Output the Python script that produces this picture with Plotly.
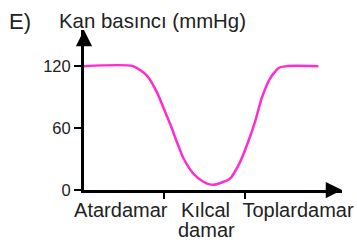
import plotly.graph_objects as go

# Data (x in vessel-band units, y in mmHg)
x_pos = [0.0, 0.605, 0.774, 0.898, 1.0, 1.083, 1.144, 1.226, 1.349, 1.473, 1.596,
         1.802, 1.926, 2.028, 2.111, 2.194, 2.296, 2.399, 2.502, 2.893]
pressure = [120, 120, 111, 95, 76, 60, 47, 31, 16, 8, 5,
            11, 27, 47, 66, 89, 108, 118, 120, 120]
categories = ["Atardamar", "Kılcal", "Toplardamar"]
cat_pos = [0.454, 1.5, 2.642]
second_line = ["damar"]
second_line_pos = [1.51]
boundary_ticks = [0.99, 1.99]
y_ticks = [0, 60, 120]

XMAX = 3.185
YMAX = 155
FONT = "Liberation Sans, Arial, sans-serif"
W, H = 357, 243
ML, MR, MT, MB = 84, 15, 30, 53

fig = go.Figure()
fig.add_trace(go.Scatter(
    x=x_pos, y=pressure, mode="lines",
    line=dict(color="#ff2ccf", width=2.5, shape="spline", smoothing=0.6),
    showlegend=False, hoverinfo="skip",
))
for ax in ("x2", "x3"):
    fig.add_trace(go.Scatter(x=[0.5], y=[None], xaxis=ax, mode="markers",
                             showlegend=False, hoverinfo="skip"))

label_font = dict(family=FONT, size=20, color="#222")
fig.update_layout(
    width=W, height=H,
    margin=dict(l=ML, r=MR, t=MT, b=MB),
    paper_bgcolor="white", plot_bgcolor="white",
    xaxis=dict(range=[0, XMAX], showgrid=False, zeroline=False, automargin=False,
               showline=True, linecolor="black", linewidth=3,
               tickvals=boundary_ticks, ticks="outside", ticklen=6,
               tickwidth=1.5, tickcolor="black", showticklabels=False),
    xaxis2=dict(range=[0, XMAX], overlaying="x", side="bottom", anchor="y",
                showgrid=False, zeroline=False, showline=False, automargin=False,
                tickvals=cat_pos, ticktext=categories, ticks="",
                ticklabelstandoff=6, tickfont=label_font),
    xaxis3=dict(range=[0, XMAX], overlaying="x", side="bottom", anchor="y",
                showgrid=False, zeroline=False, showline=False, automargin=False,
                tickvals=second_line_pos, ticktext=second_line, ticks="",
                ticklabelstandoff=26, tickfont=label_font),
    yaxis=dict(range=[0, YMAX], showgrid=False, zeroline=False, automargin=False,
               showline=True, linecolor="black", linewidth=3,
               tickvals=y_ticks, ticks="outside", ticklen=7,
               tickwidth=1.5, tickcolor="black", ticklabelstandoff=0,
               tickfont=dict(family=FONT, size=16.5, color="#222")),
)

pw = W - ML - MR
ph = H - MT - MB


def px_to_paper(px, py):
    return (px - ML) / pw, (H - MB - py) / ph


anns = [
    dict(x=XMAX, y=0, xref="x", yref="y", ax=-14, ay=0,
         showarrow=True, arrowhead=2, arrowsize=1.3, arrowwidth=2.5,
         arrowcolor="black", text=""),
    dict(x=0, y=YMAX, xref="x", yref="y", ax=0, ay=14,
         showarrow=True, arrowhead=2, arrowsize=1.3, arrowwidth=2.5,
         arrowcolor="black", text=""),
]
tx, ty = px_to_paper(57, 21)
anns.append(dict(x=tx, y=ty, xref="paper", yref="paper", text="Kan basıncı (mmHg)",
                 showarrow=False, xanchor="left", yanchor="middle",
                 font=dict(family=FONT, size=20.4, color="#222")))
ex, ey = px_to_paper(7, 21)
anns.append(dict(x=ex, y=ey, xref="paper", yref="paper", text="E)",
                 showarrow=False, xanchor="left", yanchor="middle",
                 font=dict(family=FONT, size=22, color="#222")))
fig.update_layout(annotations=anns)

fig.write_html("out.html", config={"displayModeBar": False},
               post_script="document.body.style.margin='0';document.body.style.padding='0';")
